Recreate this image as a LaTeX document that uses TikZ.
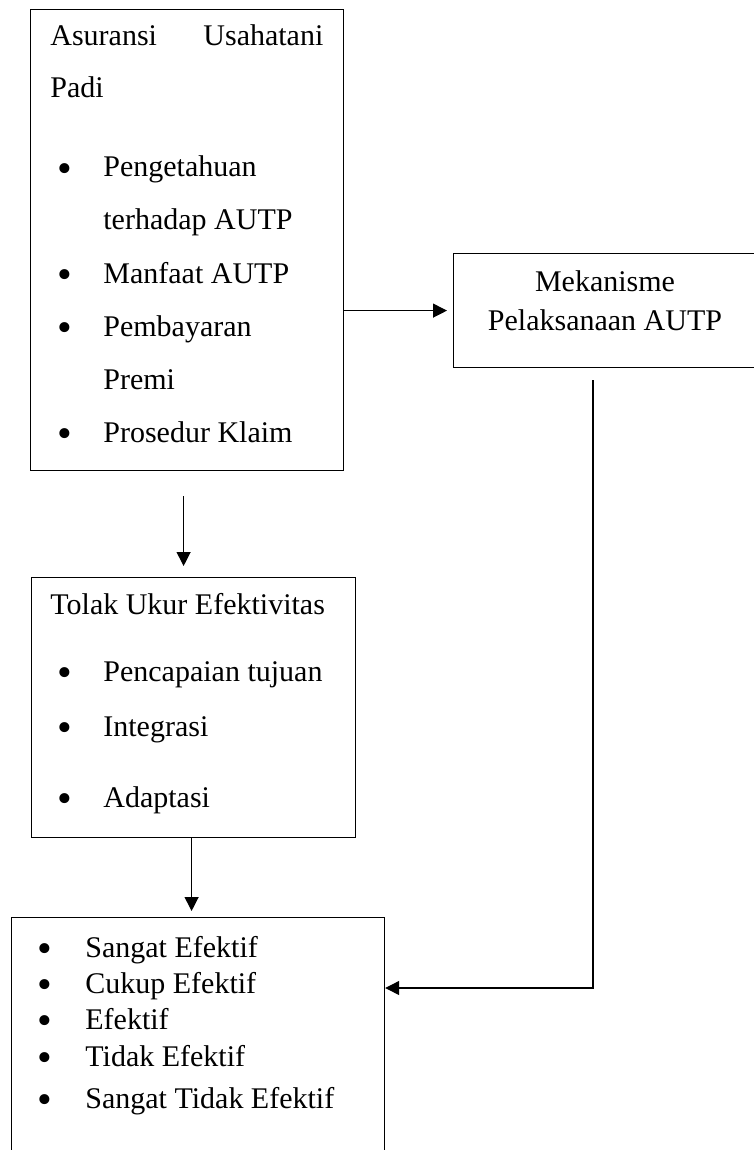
\documentclass[tikz,border=0pt]{standalone}
\usepackage{fontspec}
\usepackage{graphicx}
\setmainfont{Liberation Serif}
\usetikzlibrary{positioning, arrows.meta}

\newcommand{\butir}{\raisebox{-2.5pt}[6pt][0pt]{\scalebox{1.4}{\textbullet}}}

\begin{document}
\begin{tikzpicture}[
    x=0.5pt, y=-0.5pt,
    >={Triangle[length=7pt, width=7pt]},
    every node/.style={font=\fontsize{15}{18}\selectfont},
    box/.style={rectangle, draw, line width=0.6pt, anchor=north west, inner sep=0pt},
    item/.style={anchor=base west, inner sep=0pt},
    dot/.style={anchor=base, inner sep=0pt},
    arr/.style={->, line width=0.6pt},
  ]
  \useasboundingbox (0,0) rectangle (754,1150);
  \clip (0,0) rectangle (754,1150);

  % kotak
  \node[box, minimum width=156.5pt, minimum height=230.5pt] (usaha) at (30,9) {};
  \node[box, minimum width=152pt, minimum height=57pt] (mek) at (453,253) {};
  \node[box, minimum width=162pt, minimum height=130pt] (tolak) at (31,577) {};
  \node[box, minimum width=186.5pt, minimum height=130pt] (hasil) at (11,917) {};

  % asuransi usahatani padi
  \node[item] (judul) at (50,46) {\makebox[136.5pt][s]{Asuransi\hfill Usahatani}};
  \node[item] (padi) at (50,98) {Padi};
  \node[dot] (b1) at (65,177) {\butir};
  \node[dot] (b2) at (65,283) {\butir};
  \node[dot] (b3) at (65,336) {\butir};
  \node[dot] (b4) at (65,442) {\butir};
  \node[item] (tahu) at (103,177) {Pengetahuan};
  \node[item] (tahu2) at (103,230) {terhadap AUTP};
  \node[item] (manfaat) at (103,283) {Manfaat AUTP};
  \node[item] (premi) at (103,336) {Pembayaran};
  \node[item] (premi2) at (103,389) {Premi};
  \node[item] (klaim) at (103,442) {Prosedur Klaim};

  % mekanisme
  \node[dot] (mek1) at (605,292) {Mekanisme};
  \node[dot] (mek2) at (605,330) {Pelaksanaan AUTP};

  % tolak ukur
  \node[item] (tolakjudul) at (50,614) {Tolak Ukur Efektivitas};
  \node[dot] (c1) at (65,681) {\butir};
  \node[dot] (c2) at (65,736) {\butir};
  \node[dot] (c3) at (65,807) {\butir};
  \node[item] (tujuan) at (103,681) {Pencapaian tujuan};
  \node[item] (integrasi) at (103,736) {Integrasi};
  \node[item] (adaptasi) at (103,807) {Adaptasi};

  % hasil
  \node[dot] (d1) at (45,957) {\butir};
  \node[dot] (d2) at (45,993) {\butir};
  \node[dot] (d3) at (45,1029) {\butir};
  \node[dot] (d4) at (45,1066) {\butir};
  \node[dot] (d5) at (45,1108) {\butir};
  \node[item] (sangat) at (85,957) {Sangat Efektif};
  \node[item] (cukup) at (85,993) {Cukup Efektif};
  \node[item] (efektif) at (85,1029) {Efektif};
  \node[item] (tidak) at (85,1066) {Tidak Efektif};
  \node[item] (sangattidak) at (85,1108) {Sangat Tidak Efektif};

  % panah
  \coordinate (belok) at (593,988);
  \draw[arr, shorten >=3pt] (usaha.east |- mek.west) -- (mek.west);
  \draw[arr, shorten <=12.5pt, shorten >=5.5pt] ([xshift=-1.75pt]usaha.south) -- ([xshift=-1.75pt]usaha.south |- tolak.north);
  \draw[arr, shorten >=3pt] ([xshift=-1pt]tolak.south) -- ([xshift=-1pt]tolak.south |- hasil.north);
  \draw[arr, shorten <=6pt] (mek.south -| belok) -- (belok) -- (hasil.east |- belok);
\end{tikzpicture}
\end{document}
